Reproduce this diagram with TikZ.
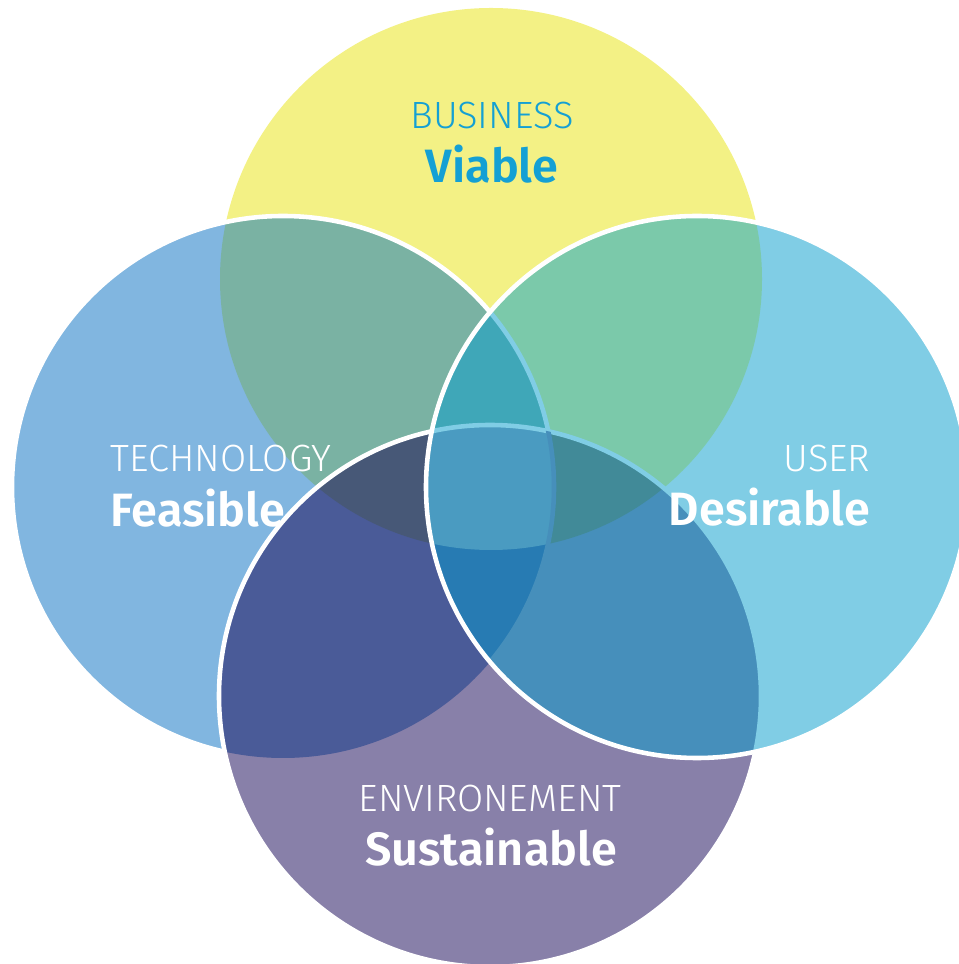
\documentclass[tikz,border=0pt]{standalone}
\usepackage{fontspec}
\newfontfamily\capsfont{Fira Sans Light}
\newfontfamily\wordfont{Fira Sans SemiBold}
\usetikzlibrary{positioning}

\definecolor{bizyellow}{HTML}{F3F185}
\definecolor{techblue}{HTML}{81B6E0}
\definecolor{userblue}{HTML}{80CDE5}
\definecolor{envpurple}{HTML}{8880A9}
\definecolor{biztext}{HTML}{14A0D4}
\definecolor{bizTech}{HTML}{7AB2A3}
\definecolor{bizUser}{HTML}{7BC9AA}
\definecolor{techEnv}{HTML}{4A5B98}
\definecolor{userEnv}{HTML}{468FBB}
\definecolor{bizTechEnv}{HTML}{475877}
\definecolor{bizUserEnv}{HTML}{418A98}
\definecolor{bizTechUser}{HTML}{3FA7B8}
\definecolor{techUserEnv}{HTML}{277BB3}
\definecolor{allFour}{HTML}{4A9BC1}

\def\circr{2.71cm}

\begin{document}
\begin{tikzpicture}[every node/.style={text=white,inner sep=0pt},
    toplabel/.style={font=\capsfont\fontsize{10.8}{13}\selectfont},
    mainlabel/.style={font=\wordfont\fontsize{13.3}{16}\selectfont},
    rim/.style={line width=1.3pt}]
    \useasboundingbox (0,0) rectangle (9.59,9.64);
    \clip (0,0) rectangle (9.59,9.64);
    \coordinate (biz) at (4.91,6.85);
    \coordinate (tech) at (2.83,4.77);
    \coordinate (user) at (6.97,4.77);
    \coordinate (env) at (4.90,2.68);

    % single circles
    \fill[bizyellow] (biz) circle (\circr);
    \fill[techblue] (tech) circle (\circr);
    \fill[userblue] (user) circle (\circr);
    \fill[envpurple] (env) circle (\circr);

    % two at a time
    \begin{scope}
        \clip (biz) circle (\circr);
        \fill[bizTech] (tech) circle (\circr);
        \fill[bizUser] (user) circle (\circr);
    \end{scope}
    \begin{scope}
        \clip (env) circle (\circr);
        \fill[techEnv] (tech) circle (\circr);
        \fill[userEnv] (user) circle (\circr);
    \end{scope}

    % three at a time
    \begin{scope}
        \clip (biz) circle (\circr);
        \clip (env) circle (\circr);
        \fill[bizTechEnv] (tech) circle (\circr);
        \fill[bizUserEnv] (user) circle (\circr);
    \end{scope}
    \begin{scope}
        \clip (tech) circle (\circr);
        \clip (user) circle (\circr);
        \fill[bizTechUser] (biz) circle (\circr);
        \fill[techUserEnv] (env) circle (\circr);
        \clip (biz) circle (\circr);
        \fill[allFour] (env) circle (\circr);
    \end{scope}

    % rims
    \begin{scope}[even odd rule]
        \clip (0,9.64) rectangle (9.59,0) (env) circle (\circr);
        \clip (0,9.64) rectangle (9.59,0) (user) circle (\circr);
        \draw[rim,white] (tech) circle (\circr);
    \end{scope}
    \begin{scope}[even odd rule]
        \clip (0,9.64) rectangle (9.59,0) (user) circle (\circr);
        \draw[rim,white] (env) circle (\circr);
    \end{scope}
    \begin{scope}
        \clip (user) circle (\circr);
        \draw[rim,userblue] (env) circle (\circr);
        \begin{scope}[even odd rule]
            \clip (0,9.64) rectangle (9.59,0) (env) circle (\circr);
            \draw[rim,userblue] (tech) circle (\circr);
        \end{scope}
        \clip (env) circle (\circr);
        \draw[rim,userEnv] (tech) circle (\circr);
    \end{scope}
    \draw[rim,white] (user) circle (\circr);

    % labels
    \node[toplabel,text=biztext,anchor=base] (bizcap) at (4.92,8.35) {BUSINESS};
    \node[mainlabel,text=biztext,anchor=base] (bizword) at (4.92,7.81) {Viable};
    \node[toplabel,anchor=base west] (techcap) at (1.10,4.92) {TECHNOLOGY};
    \node[mainlabel,anchor=base west] (techword) at (1.10,4.37) {Feasible};
    \node[toplabel,anchor=base east] (usercap) at (8.71,4.92) {USER};
    \node[mainlabel,anchor=base east] (userword) at (8.71,4.38) {Desirable};
    \node[toplabel,anchor=base] (envcap) at (4.90,1.52) {ENVIRONEMENT};
    \node[mainlabel,anchor=base] (envword) at (4.91,0.99) {Sustainable};
\end{tikzpicture}
\end{document}
